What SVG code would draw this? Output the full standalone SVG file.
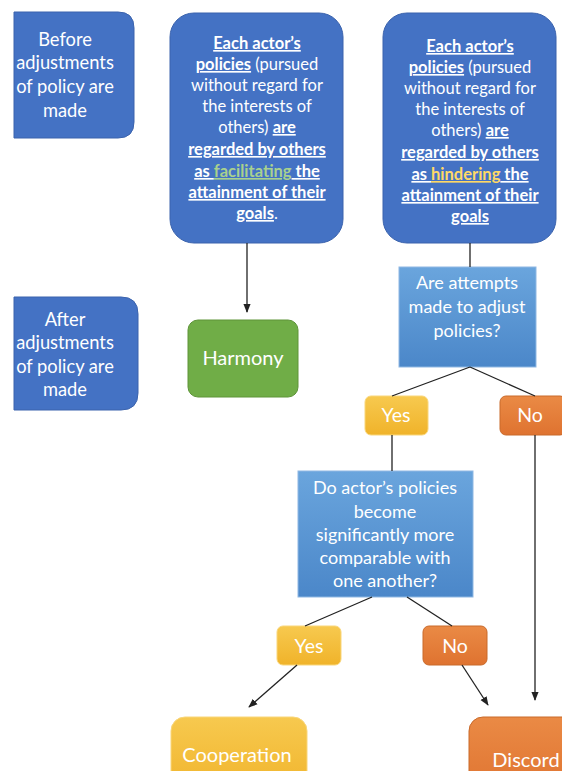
<svg xmlns="http://www.w3.org/2000/svg" width="562" height="771" viewBox="0 0 562 771">
<defs>
<linearGradient id="gq" x1="0" y1="0" x2="0" y2="1"><stop offset="0" stop-color="#6aa5dd"/><stop offset="1" stop-color="#4b87c9"/></linearGradient>
<linearGradient id="gy" x1="0" y1="0" x2="0" y2="1"><stop offset="0" stop-color="#f7c94f"/><stop offset="1" stop-color="#f0b32a"/></linearGradient>
<linearGradient id="go" x1="0" y1="0" x2="0" y2="1"><stop offset="0" stop-color="#ea8a45"/><stop offset="1" stop-color="#df7330"/></linearGradient>
<marker id="ah" viewBox="0 0 10 10" refX="9" refY="5" markerWidth="7" markerHeight="7" orient="auto"><path d="M0,1 L10,5 L0,9 Z" fill="#222"/></marker>
<style>
text{font-family:Lato,"Open Sans","Liberation Sans",sans-serif;fill:#fff;text-anchor:middle}
.blue{fill:#4472c4;stroke:#3b63ad;stroke-width:1}
.q{fill:url(#gq);stroke:#8fb8e3;stroke-width:1}
.y{fill:url(#gy);stroke:#f9d67a;stroke-width:1}
.o{fill:url(#go);stroke:#c96a2b;stroke-width:1}
.g{fill:#70ad47;stroke:#5e9439;stroke-width:1}
.c{stroke:#222;stroke-width:1.3;fill:none}
.b{font-weight:bold;text-decoration:underline}
.lab{font-size:18.3px}
.q1{font-size:18px}
.big{font-size:16.5px}
.yn{font-size:19.5px}
.res{font-size:20px}
</style>
</defs>
<g id="before">
<path class="blue" d="M14,12 H118 Q134,12 134,28 V122 Q134,138 118,138 H14 Z"/>
<text class="lab" x="65" y="46">Before</text>
<text class="lab" x="65" y="69">adjustments</text>
<text class="lab" x="65" y="93">of policy are</text>
<text class="lab" x="65" y="117">made</text>
</g>
<g id="after">
<path class="blue" d="M14,297 H121 Q138,297 138,314 V393 Q138,410 121,410 H14 Z"/>
<text class="lab" x="65" y="326">After</text>
<text class="lab" x="65" y="349">adjustments</text>
<text class="lab" x="65" y="373">of policy are</text>
<text class="lab" x="65" y="396">made</text>
</g>
<g id="facilitating">
<rect class="blue" x="170" y="13" width="173" height="230" rx="24"/>
<text class="big" x="257" y="49"><tspan class="b">Each actor’s</tspan></text>
<text class="big" x="257" y="70"><tspan class="b">policies</tspan> (pursued</text>
<text class="big" x="257" y="91">without regard for</text>
<text class="big" x="257" y="112">the interests of</text>
<text class="big" x="257" y="133">others) <tspan class="b">are</tspan></text>
<text class="big" x="257" y="155"><tspan class="b">regarded by others</tspan></text>
<text class="big" x="257" y="177"><tspan class="b">as </tspan><tspan class="b" style="fill:#a9d18e">facilitating</tspan><tspan class="b"> the</tspan></text>
<text class="big" x="257" y="198"><tspan class="b">attainment of their</tspan></text>
<text class="big" x="257" y="219"><tspan class="b">goals</tspan>.</text>
</g>
<g id="hindering">
<rect class="blue" x="383" y="13" width="173" height="230" rx="24"/>
<text class="big" x="470" y="52"><tspan class="b">Each actor’s</tspan></text>
<text class="big" x="470" y="73"><tspan class="b">policies</tspan> (pursued</text>
<text class="big" x="470" y="94">without regard for</text>
<text class="big" x="470" y="115">the interests of</text>
<text class="big" x="470" y="136">others) <tspan class="b">are</tspan></text>
<text class="big" x="470" y="158"><tspan class="b">regarded by others</tspan></text>
<text class="big" x="470" y="180"><tspan class="b">as </tspan><tspan class="b" style="fill:#ffd966">hindering</tspan><tspan class="b"> the</tspan></text>
<text class="big" x="470" y="201"><tspan class="b">attainment of their</tspan></text>
<text class="big" x="470" y="222"><tspan class="b">goals</tspan></text>
</g>
<g id="harmony">
<rect class="g" x="188" y="320" width="110" height="77" rx="10"/>
<text class="res" x="243" y="365">Harmony</text>
</g>
<g id="q1">
<rect class="q" x="399" y="267" width="137" height="100"/>
<text class="q1" x="467" y="289">Are attempts</text>
<text class="q1" x="467" y="313">made to adjust</text>
<text class="q1" x="467" y="337">policies?</text>
</g>
<g id="yes1">
<rect class="y" x="365" y="396" width="63" height="39" rx="6"/>
<text class="yn" x="396" y="422">Yes</text>
</g>
<g id="no1">
<rect class="o" x="500" y="396" width="66" height="39" rx="6"/>
<text class="yn" x="530" y="422">No</text>
</g>
<g id="q2">
<rect class="q" x="298" y="471" width="175" height="126"/>
<text class="q1" x="385" y="494">Do actor’s policies</text>
<text class="q1" x="385" y="518">become</text>
<text class="q1" x="385" y="541">significantly more</text>
<text class="q1" x="385" y="564">comparable with</text>
<text class="q1" x="385" y="587">one another?</text>
</g>
<g id="yes2">
<rect class="y" x="277" y="626" width="64" height="39" rx="6"/>
<text class="yn" x="309" y="653">Yes</text>
</g>
<g id="no2">
<rect class="o" x="423" y="626" width="64" height="39" rx="6"/>
<text class="yn" x="455" y="653">No</text>
</g>
<g id="cooperation">
<rect class="y" x="171" y="717" width="136" height="80" rx="14"/>
<text class="res" x="237" y="762">Cooperation</text>
</g>
<g id="discord">
<rect class="o" x="469" y="717" width="120" height="80" rx="14"/>
<text class="res" x="526" y="767">Discord</text>
</g>
<g id="connectors">
<path class="c" d="M247,243 V312" marker-end="url(#ah)"/>
<path class="c" d="M470,243 V267"/>
<path class="c" d="M470,367 L392,396"/>
<path class="c" d="M470,367 L535,396"/>
<path class="c" d="M392,435 V471"/>
<path class="c" d="M535,435 V700" marker-end="url(#ah)"/>
<path class="c" d="M372,597 L305,626"/>
<path class="c" d="M407,597 L452,626"/>
<path class="c" d="M297,665 L249,707" marker-end="url(#ah)"/>
<path class="c" d="M462,665 L488,705" marker-end="url(#ah)"/>
</g>
</svg>
